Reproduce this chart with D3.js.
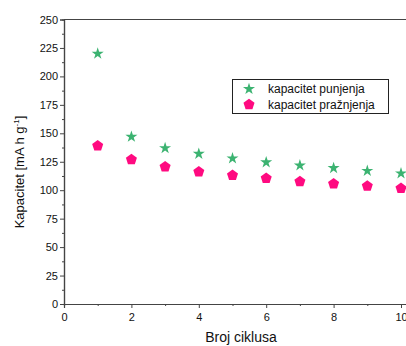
<!DOCTYPE html>
<html>
<head>
<meta charset="utf-8">
<script src="https://cdn.jsdelivr.net/npm/d3@7"></script>
<style>
body { margin: 0; background: #fff; }
text { font-family: "Liberation Sans", Arial, sans-serif; }
</style>
</head>
<body>
<script>
var w = 406;
var h = 346;

var cycles = [1, 2, 3, 4, 5, 6, 7, 8, 9, 10];
var punjenje = [220, 147, 137, 132, 128, 124.5, 121.8, 119.5, 117, 114.8];
var praznjenje = [139, 127, 120.6, 116.2, 113, 110.4, 107.7, 105.6, 103.6, 101.6];
var seriesNames = ["kapacitet punjenja", "kapacitet pražnjenja"];
var xTicks = [0, 2, 4, 6, 8, 10];
var yTicks = [0, 25, 50, 75, 100, 125, 150, 175, 200, 225, 250];

var axisColor = "#444";

var xScale = d3.scaleLinear().domain([0, 10.2]).range([64, 64 + 33.7 * 10.2]);
var yScale = d3.scaleLinear().domain([0, 250]).range([304, 19.5]);

var svg = d3.select("body").append("svg")
    .attr("width", w)
    .attr("height", h);

// pentagon symbol
var pentagon = {
    draw: function(context, size) {
        var r = Math.sqrt(size / 2.378);
        for (var i = 0; i < 5; i++) {
            var a = -Math.PI / 2 + i * 2 * Math.PI / 5;
            var px = r * Math.cos(a), py = r * Math.sin(a);
            if (i === 0) context.moveTo(px, py); else context.lineTo(px, py);
        }
        context.closePath();
    }
};

//Axes
var xAxis = d3.axisBottom(xScale).tickValues(xTicks).tickSize(4).tickFormat(d3.format("d"));
var gx = svg.append("g").attr("transform", "translate(0," + yScale(0) + ")").call(xAxis);
gx.selectAll("text").attr("font-size", "11px").attr("fill", "#111").attr("dy", "0.9em");

var xMinor = d3.axisBottom(xScale).tickValues([1, 3, 5, 7, 9]).tickSize(2).tickFormat("");
svg.append("g").attr("transform", "translate(0," + yScale(0) + ")").call(xMinor);

var yAxis = d3.axisLeft(yScale).tickValues(yTicks).tickSize(4);
var gy = svg.append("g").attr("transform", "translate(" + xScale(0) + ",0)").call(yAxis);
gy.selectAll("text").attr("font-size", "11px").attr("fill", "#111").attr("x", -6);

var yMinor = d3.axisLeft(yScale).tickValues(d3.range(12.5, 250, 25)).tickSize(2).tickFormat("");
svg.append("g").attr("transform", "translate(" + xScale(0) + ",0)").call(yMinor);

svg.selectAll(".domain").attr("stroke", axisColor).attr("stroke-width", 1.2);
svg.selectAll(".tick line").attr("stroke", axisColor);

// top frame line
svg.append("line")
    .attr("x1", xScale(0)).attr("x2", xScale(10.2))
    .attr("y1", yScale(250)).attr("y2", yScale(250))
    .attr("stroke", axisColor).attr("stroke-width", 1.2);

//Points
svg.selectAll(".star")
    .data(punjenje)
    .enter()
    .append("path")
    .attr("class", "star")
    .attr("d", d3.symbol().type(d3.symbolStar).size(45))
    .attr("transform", (d, i) => "translate(" + xScale(cycles[i]) + "," + yScale(d) + ")")
    .attr("fill", "#3cb371");

svg.selectAll(".pent")
    .data(praznjenje)
    .enter()
    .append("path")
    .attr("class", "pent")
    .attr("d", d3.symbol().type(pentagon).size(80))
    .attr("transform", (d, i) => "translate(" + xScale(cycles[i]) + "," + yScale(d) + ")")
    .attr("fill", "#ff0a80");

//Legend
var legend = svg.append("g");
legend.append("rect")
    .attr("x", 232.5).attr("y", 79.5)
    .attr("width", 156).attr("height", 34)
    .attr("fill", "none").attr("stroke", "#222").attr("stroke-width", 1);
legend.append("path")
    .attr("d", d3.symbol().type(d3.symbolStar).size(45))
    .attr("transform", "translate(249,89)")
    .attr("fill", "#3cb371");
legend.append("path")
    .attr("d", d3.symbol().type(pentagon).size(80))
    .attr("transform", "translate(249,104.5)")
    .attr("fill", "#ff0a80");
legend.selectAll(".lbl")
    .data(seriesNames)
    .enter()
    .append("text")
    .attr("x", 268)
    .attr("y", (d, i) => 93 + i * 15.5)
    .attr("font-size", "12px")
    .attr("fill", "#111")
    .text(d => d);

//Axis titles
svg.append("text")
    .attr("x", 241).attr("y", 342)
    .attr("text-anchor", "middle")
    .attr("font-size", "14px")
    .attr("fill", "#111")
    .text("Broj ciklusa");

var yt = svg.append("text")
    .attr("transform", "translate(24,172) rotate(-90)")
    .attr("text-anchor", "middle")
    .attr("font-size", "13px")
    .attr("fill", "#111");
yt.append("tspan").text("Kapacitet [mA h g");
yt.append("tspan").attr("font-size", "8px").attr("dy", "-5").text("-1");
yt.append("tspan").attr("dy", "5").text("]");
</script>
</body>
</html>
